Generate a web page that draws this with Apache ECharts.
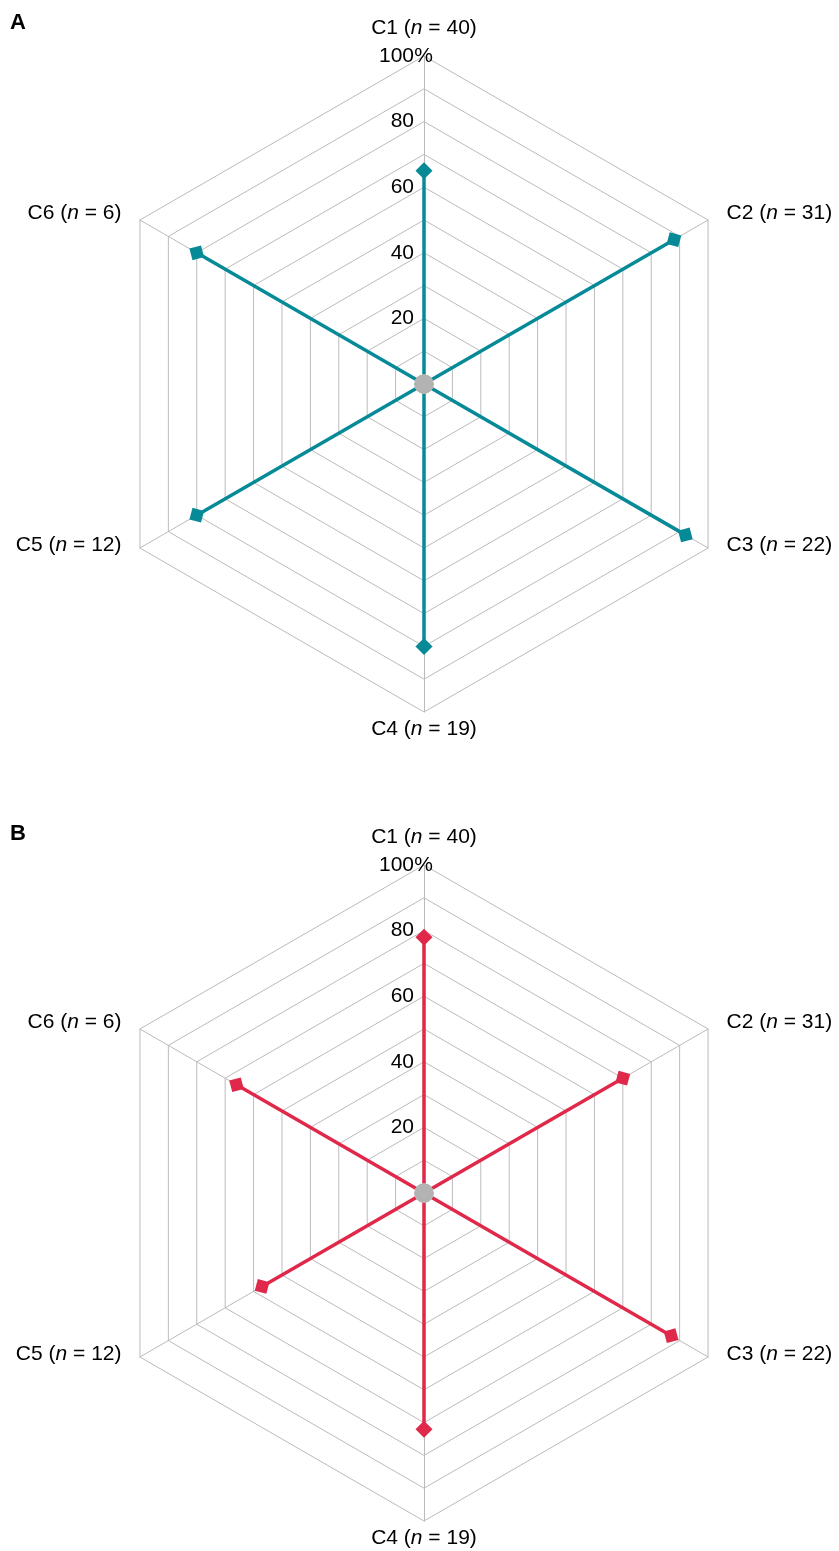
<!DOCTYPE html>
<html><head><meta charset="utf-8">
<script src="https://cdn.jsdelivr.net/npm/echarts@6/dist/echarts.min.js"></script>
<style>html,body{margin:0;padding:0;background:#fff}#c{width:839px;height:1551px}</style>
</head><body><div id="c"></div>
<script>
const categories = ['C1', 'C2', 'C3', 'C4', 'C5', 'C6'];
const sampleSizes = [40, 31, 22, 19, 12, 6];
const valuesA = [65, 88, 92, 80, 80, 80];
const valuesB = [78, 70, 87, 72, 57, 66];
const tickValues = [20, 40, 60, 80, 100];
const panelLabels = ['A', 'B'];
const panelColors = ['#078a98', '#e0294a'];

const FONT = 'Liberation Sans, Arial, sans-serif';
// ECharts radar runs counter-clockwise from the top; the reference runs clockwise.
const order = [0, 5, 4, 3, 2, 1];
const centersY = [384, 1193];
const titleTops = [12, 823];
const R = 328;

const txt = { fontSize: 21, fontFamily: FONT, color: '#000' };

function radarFor(p) {
  return {
    center: [424, centersY[p]],
    radius: R,
    startAngle: 90,
    shape: 'polygon',
    splitNumber: 10,
    nameGap: 4,
    axisName: {
      color: '#000', fontSize: 21, fontFamily: FONT,
      padding: [3, 15, 13, 15],
      formatter: function (name) {
        const i = categories.indexOf(name);
        return '{t|' + name + ' (}{i|n}{t| = ' + sampleSizes[i] + ')}';
      },
      rich: { t: Object.assign({}, txt), i: Object.assign({ fontStyle: 'italic' }, txt) }
    },
    indicator: order.map(function (ci, k) {
      const ind = { name: categories[ci], min: 0, max: 100 };
      if (k === 0) {
        ind.axisLabel = {
          show: true, margin: -9,
          formatter: function (v) {
            if (tickValues.indexOf(v) < 0) return '';
            return '{a|' + v + '}{p|' + (v === 100 ? '%' : ' ') + '}';
          },
          rich: { a: Object.assign({}, txt), p: Object.assign({ width: 19 }, txt) }
        };
      }
      return ind;
    }),
    splitLine: { lineStyle: { color: '#bbbbbb', width: 1 } },
    splitArea: { show: false },
    axisLine: { lineStyle: { color: '#bbbbbb', width: 1 } },
    axisTick: { show: false },
    axisLabel: { show: false }
  };
}

function spokes(values, p) {
  return {
    type: 'radar', radarIndex: p, z: 2,
    symbol: 'diamond', symbolSize: 17,
    itemStyle: { color: panelColors[p] },
    lineStyle: { color: panelColors[p], width: 3.5 },
    data: order.map(function (ci, k) {
      const v = [0, 0, 0, 0, 0, 0];
      v[k] = values[ci];
      return { name: categories[ci], value: v, symbolRotate: 60 * k };
    })
  };
}

function hub(p) {
  return {
    type: 'radar', radarIndex: p, z: 5,
    symbol: 'circle', symbolSize: 19,
    itemStyle: { color: '#b3b3b3' },
    lineStyle: { width: 0 },
    data: [{ value: [0, 0, 0, 0, 0, 0] }]
  };
}

const chart = echarts.init(document.getElementById('c'), null, { renderer: 'canvas' });
chart.setOption({
  animation: false,
  backgroundColor: '#fff',
  title: panelLabels.map(function (t, p) {
    return { text: t, left: 10, top: titleTops[p], padding: 0,
      textStyle: { fontSize: 22, fontWeight: 'bold', fontFamily: FONT, color: '#000' } };
  }),
  radar: [radarFor(0), radarFor(1)],
  series: [spokes(valuesA, 0), spokes(valuesB, 1), hub(0), hub(1)]
});
</script></body></html>
